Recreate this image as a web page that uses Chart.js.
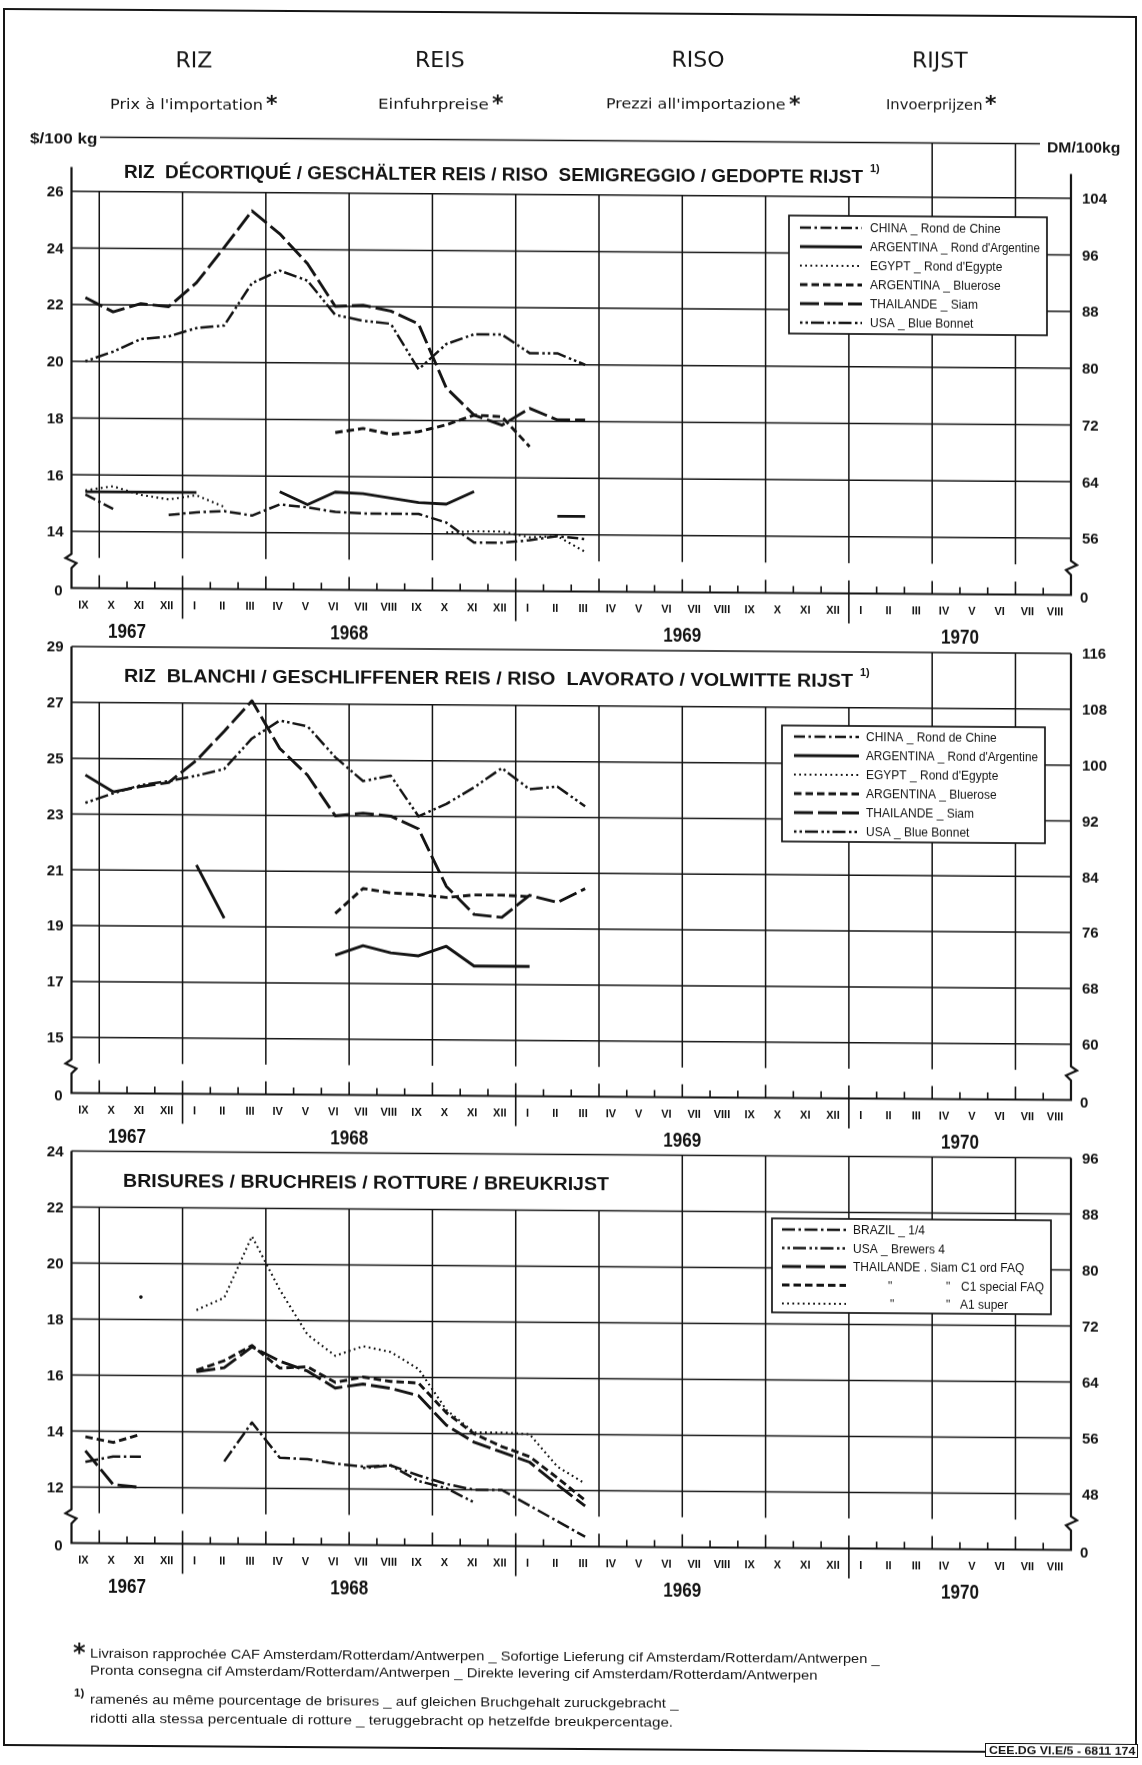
<!DOCTYPE html>
<html>
<head>
<meta charset="utf-8">
<title>Riz - prix à l'importation</title>
<script src="https://cdn.jsdelivr.net/npm/chart.js@4.4.1/dist/chart.umd.min.js"></script>
<style>
  html, body { margin: 0; padding: 0; background: #fff; overflow: hidden; }
  #page { position: relative; width: 1142px; height: 1765px; transform: skewY(0.4deg); transform-origin: 0 0; }
  #page canvas { position: absolute; left: 0; top: 0; }
  .txt { position: absolute; white-space: nowrap; color: #161616; transform-origin: 0 50%; }
  #frame { position: absolute; left: 3px; top: 8px; width: 1134px; height: 1738px; border: 2.5px solid #161616; box-sizing: border-box; }
  #stamp { position: absolute; left: 985px; top: 1736px; width: 153px; height: 14px; border: 1.5px solid #161616; box-sizing: border-box; background: #fff; }
</style>
</head>
<body>
<div id="page">
  <div id="frame"></div>
  <div id="stamp"></div>
</div>
<script>
// months on the time axis, IX 1967 .. VIII 1970
const months = ['IX','X','XI','XII','I','II','III','IV','V','VI','VII','VIII','IX','X','XI','XII',
  'I','II','III','IV','V','VI','VII','VIII','IX','X','XI','XII','I','II','III','IV','V','VI','VII','VIII'];
const years = ['1967', '1968', '1969', '1970'];
const yearStart = [0, 4, 16, 28, 36];
const dmPerDollar = 4;

// $/100 kg, monthly from IX 1967; null = no quotation
// husked rice
const huskChina   = [15.3, 14.8, null, 14.6, 14.7, 14.75, 14.6, 15.0, 14.9, 14.75, 14.7, 14.7, 14.7, 14.4, 13.7, 13.7, 13.8, 13.95, 13.85];
const huskArgRond = [15.4, 15.4, 15.4, 15.4, 15.4, null, null, 15.45, 15.0, 15.45, 15.4, 15.25, 15.1, 15.05, 15.5, null, null, 14.65, 14.65];
const huskEgypt   = [15.45, 15.6, 15.3, 15.15, 15.3, 14.9, null, null, null, null, null, null, null, 14.05, 14.1, 14.1, 13.9, 13.95, 13.4];
const huskBlue    = [null, null, null, null, null, null, null, null, null, 17.55, 17.7, 17.5, 17.6, 17.85, 18.2, 18.15, 17.1, null, null];
const huskSiam    = [22.25, 21.75, 22.05, 21.95, 22.8, 24.05, 25.35, 24.55, 23.5, 22.0, 22.05, 21.85, 21.4, 19.15, 18.2, 17.85, 18.45, 18.05, 18.05];
const huskUsa     = [20.0, 20.35, 20.8, 20.9, 21.2, 21.3, 22.8, 23.25, 22.9, 21.7, 21.5, 21.4, 19.8, 20.7, 21.05, 21.05, 20.4, 20.4, 20.0];

// milled rice
const millArgRond = [24.4, 23.8, null, null, 21.2, 19.3, null, null, null, 18.0, 18.35, 18.1, 18.0, 18.35, 17.65, 17.65, 17.65, null, null];
const millBlue    = [null, null, null, null, null, null, null, null, null, 19.5, 20.4, 20.25, 20.2, 20.1, 20.2, 20.2, 20.15, null, null];
const millSiam    = [null, 23.8, 24.0, 24.15, 24.95, 26.0, 27.1, 25.4, 24.45, 23.0, 23.1, 23.0, 22.55, 20.5, 19.5, 19.4, 20.2, 19.95, 20.45];
const millUsa     = [23.4, 23.75, 24.05, 24.2, 24.4, 24.65, 25.75, 26.4, 26.2, 25.1, 24.25, 24.45, 23.0, 23.45, 24.05, 24.75, 24.0, 24.1, 23.4];

// broken rice
const brokBrazil  = [12.9, 13.1, 13.1, null, null, 12.95, 14.35, 13.1, 13.05, 12.9, 12.8, 12.85, 12.5, 12.2, 12.0, 12.0, 11.45, 10.9, 10.35];
const brokUsa     = [null, null, null, null, null, null, null, null, null, null, 12.75, 12.85, 12.3, 12.05, 11.55, null, null, null, null];
const brokSiamOrd = [13.3, 12.1, 12.0, null, 16.15, 16.3, 17.05, 16.55, 16.2, 15.6, 15.75, 15.6, 15.35, 14.3, 13.7, 13.35, 13.0, 12.2, 11.45];
const brokSpecial = [13.8, 13.6, 13.9, null, 16.2, 16.55, 17.1, 16.3, 16.35, 15.8, 16.0, 15.85, 15.8, 14.75, 14.0, 13.55, 13.2, 12.45, 11.65];
const brokSuper   = [null, null, 18.8, null, 18.35, 18.8, 21.0, 19.1, 17.5, 16.75, 17.1, 16.9, 16.3, 14.85, 14.05, 14.05, 14.0, 12.85, 12.25];

// gridline values ($) of each panel
const ticksHusk   = [14, 16, 18, 20, 22, 24, 26];
const ticksMilled = [15, 17, 19, 21, 23, 25, 27, 29];
const ticksBroken = [12, 14, 16, 18, 20, 22, 24];

const INK = '#141414';
const SANS = '"Liberation Sans", Arial, sans-serif';
const NARROW = '"Liberation Sans Narrow", "Liberation Sans", Arial, sans-serif';
const DEJAVU = '"DejaVu Sans", "Liberation Sans", sans-serif';
const PAGE_W = 1142, PAGE_H = 1765;
const AXIS_L = 71.5, AXIS_R = 1071;

const LINE = {
  china:   { dash: [11, 3.5, 2.5, 3.5], width: 2.5 },
  solid:   { dash: [], width: 2.9 },
  dotted:  { dash: [1.8, 3.4], width: 2.1 },
  short:   { dash: [7.5, 4], width: 2.9 },
  long:    { dash: [19, 5], width: 2.9 },
  dotDash: { dash: [2.5, 3, 2.5, 3, 13, 3.5], width: 2.5 },
  brazil:  { dash: [13, 3.5, 2.5, 3.5], width: 2.5 }
};

const riceKeys = [
  { text: 'CHINA _ Rond de Chine', style: LINE.china },
  { text: "ARGENTINA _ Rond d'Argentine", style: LINE.solid },
  { text: "EGYPT _ Rond d'Egypte", style: LINE.dotted },
  { text: 'ARGENTINA _ Bluerose', style: LINE.short },
  { text: 'THAILANDE _ Siam', style: LINE.long },
  { text: 'USA _ Blue Bonnet', style: LINE.dotDash }
];
const brokenKeys = [
  { text: [['BRAZIL _ 1/4', 0]], style: LINE.brazil },
  { text: [['USA _ Brewers 4', 0]], style: LINE.dotDash },
  { text: [['THAILANDE . Siam', 0], ['C1 ord FAQ', 108]], style: LINE.long },
  { text: [['"', 35], ['"', 93], ['C1 special FAQ', 108]], style: LINE.short },
  { text: [['"', 37], ['"', 93], ['A1 super', 107]], style: LINE.dotted }
];

const panels = [
  {
    key: 'husk', top: 134, bottom: 587.5, yMin: 12, yMax: 28, ticks: ticksHusk,
    axisTop: 26.85, bandFrom: 31, unitLine: [100, 1040],
    title: 'RIZ  DÉCORTIQUÉ / GESCHÄLTER REIS / RISO  SEMIGREGGIO / GEDOPTE RIJST',
    titleX: 124, titleY: 170, titleW: 739,
    legend: { x: 789, y: 210, w: 258, h: 118, s0: 800, s1: 862, tx: 870, row0: 222, rowH: 19 },
    keys: riceKeys,
    series: [
      [huskChina, LINE.china], [huskArgRond, LINE.solid], [huskEgypt, LINE.dotted],
      [huskBlue, LINE.short], [huskSiam, LINE.long], [huskUsa, LINE.dotDash]
    ]
  },
  {
    key: 'milled', top: 646, bottom: 1092.5, yMin: 13, yMax: 29, ticks: ticksMilled,
    axisTop: 29, bandFrom: 31, unitLine: null,
    title: 'RIZ  BLANCHI / GESCHLIFFENER REIS / RISO  LAVORATO / VOLWITTE RIJST',
    titleX: 124, titleY: 674, titleW: 729,
    legend: { x: 782, y: 720, w: 263, h: 116, s0: 794, s1: 859, tx: 866, row0: 731, rowH: 19 },
    keys: riceKeys,
    series: [
      [millArgRond, LINE.solid], [millBlue, LINE.short], [millSiam, LINE.long], [millUsa, LINE.dotDash]
    ]
  },
  {
    key: 'broken', top: 1150.5, bottom: 1542.5, yMin: 10, yMax: 24, ticks: ticksBroken,
    axisTop: 24, bandFrom: 22, unitLine: null,
    title: 'BRISURES / BRUCHREIS / ROTTURE / BREUKRIJST',
    titleX: 123, titleY: 1179.5, titleW: 486, noNote: true,
    legend: { x: 772, y: 1213, w: 279, h: 94, s0: 782, s1: 846, tx: 853, row0: 1224, rowH: 18.5 },
    keys: brokenKeys,
    series: [
      [brokBrazil, LINE.brazil], [brokUsa, LINE.dotDash], [brokSiamOrd, LINE.long],
      [brokSpecial, LINE.short], [brokSuper, LINE.dotted]
    ]
  }
];

function fitText(ctx, str, x, yBase, w) {
  const nat = ctx.measureText(str).width;
  ctx.save();
  ctx.translate(x, yBase);
  ctx.scale(w / nat, 1);
  ctx.textAlign = 'left';
  ctx.fillText(str, 0, 0);
  ctx.restore();
}

const isolated = (vals, i) => vals[i] != null && vals[i - 1] == null && vals[i + 1] == null;

function framePlugin(p) {
  return {
    id: 'frame_' + p.key,
    beforeDatasetsDraw(chart) {
      const ctx = chart.ctx;
      const a = chart.chartArea;
      const xs = chart.scales.x, ys = chart.scales.y;
      const L = a.left, R = a.right;
      const step = (R - L) / months.length;
      const bx = k => L + k * step;
      const py = v => ys.getPixelForValue(v);
      const base = py(p.yMin);
      const low = p.ticks[0];
      const bandTop = p.unitLine ? py(p.yMax) + 2.5 : py(p.yMax);
      const bandBottom = py(p.yMax - 2);

      ctx.save();
      ctx.strokeStyle = INK;
      ctx.fillStyle = INK;
      ctx.lineCap = 'butt';

      // grid: horizontal at each $ value, vertical every quarter
      ctx.lineWidth = 1.5;
      ctx.beginPath();
      p.ticks.forEach(v => { ctx.moveTo(L, py(v)); ctx.lineTo(R, py(v)); });
      if (p.unitLine) { ctx.moveTo(p.unitLine[0], bandTop); ctx.lineTo(p.unitLine[1], bandTop); }
      for (let k = 1; k < months.length; k += 3) {
        ctx.moveTo(bx(k), k >= p.bandFrom ? bandTop : bandBottom);
        ctx.lineTo(bx(k), py(low - 0.93));
      }
      ctx.stroke();

      // axes, broken between the lowest gridline and zero
      const z0 = py(low - 0.8);
      ctx.lineWidth = 2.2;
      ctx.beginPath();
      ctx.moveTo(L, py(p.axisTop)); ctx.lineTo(L, z0);
      ctx.lineTo(L - 6, z0 + 4); ctx.lineTo(L + 5, z0 + 9); ctx.lineTo(L, z0 + 14);
      ctx.lineTo(L, base); ctx.lineTo(R, base);
      ctx.lineTo(R, z0 + 14); ctx.lineTo(R - 5, z0 + 9); ctx.lineTo(R + 6, z0 + 4); ctx.lineTo(R, z0);
      ctx.lineTo(R, py(p.axisTop));
      ctx.stroke();

      // month ticks
      ctx.lineWidth = 1.6;
      ctx.beginPath();
      for (let k = 1; k < months.length; k++) {
        const xx = bx(k);
        if (yearStart.includes(k)) { ctx.moveTo(xx, base - 13); ctx.lineTo(xx, base + 30); }
        else { ctx.moveTo(xx, base - (k % 3 === 1 ? 13 : 7)); ctx.lineTo(xx, base); }
      }
      ctx.stroke();

      // $ labels on the left, DM labels on the right
      ctx.font = 'bold 15px ' + SANS;
      ctx.textBaseline = 'alphabetic';
      const lbl = (s, xx, yy, align) => { ctx.textAlign = align; ctx.fillText(s, xx, yy + 5.4); };
      p.ticks.forEach(v => {
        lbl(String(v), L - 8, py(v), 'right');
        lbl(String(v * dmPerDollar), R + 11, py(v), 'left');
      });
      lbl('0', L - 9, base + 2, 'right');
      lbl('0', R + 9, base + 2, 'left');

      // months and years
      ctx.font = 'bold 11px ' + NARROW;
      ctx.textAlign = 'center';
      months.forEach((m, i) => ctx.fillText(m, xs.getPixelForValue(i) - 2, base + 20));
      ctx.font = 'bold 20px ' + NARROW;
      years.forEach((yr, j) => {
        const c = (bx(yearStart[j]) + bx(yearStart[j + 1])) / 2;
        fitText(ctx, yr, c - 19, base + 49, 38);
      });

      // panel title
      ctx.font = 'bold 18px ' + SANS;
      fitText(ctx, p.title, p.titleX, p.titleY + 6.5, p.titleW);
      if (!p.noNote) {
        ctx.font = 'bold 11px ' + SANS;
        ctx.textAlign = 'left';
        ctx.fillText('1)', p.titleX + p.titleW + 7, p.titleY - 4);
      }

      // key, each label kept inside the box
      const lg = p.legend;
      ctx.fillStyle = '#fff';
      ctx.fillRect(lg.x, lg.y, lg.w, lg.h);
      ctx.fillStyle = INK;
      ctx.lineWidth = 1.7;
      ctx.strokeRect(lg.x, lg.y, lg.w, lg.h);
      ctx.font = '12px ' + SANS;
      ctx.textAlign = 'left';
      p.keys.forEach((key, i) => {
        const yy = lg.row0 + i * lg.rowH;
        ctx.setLineDash(key.style.dash);
        ctx.lineWidth = key.style.width;
        ctx.beginPath(); ctx.moveTo(lg.s0, yy); ctx.lineTo(lg.s1, yy); ctx.stroke();
        ctx.setLineDash([]);
        const parts = typeof key.text === 'string' ? [[key.text, 0]] : key.text;
        parts.forEach(([t, dx]) => {
          const tx = lg.tx + dx;
          const room = lg.x + lg.w - 7 - tx;
          const w = ctx.measureText(t).width;
          fitText(ctx, t, tx, yy + 4.3, Math.min(w, room));
        });
      });
      ctx.restore();
    }
  };
}

const page = document.getElementById('page');

panels.forEach(p => {
  const canvas = document.createElement('canvas');
  canvas.width = PAGE_W; canvas.height = PAGE_H;
  canvas.style.width = PAGE_W + 'px'; canvas.style.height = PAGE_H + 'px';
  page.appendChild(canvas);
  const datasets = p.series.map(([vals, st]) => ({
    data: vals,
    borderColor: INK,
    borderWidth: st.width,
    borderDash: st.dash,
    pointRadius: c => isolated(vals, c.dataIndex) ? 1.8 : 0,
    pointBackgroundColor: INK,
    pointBorderWidth: 0,
    spanGaps: false,
    fill: false,
    tension: 0
  }));
  new Chart(canvas, {
    type: 'line',
    data: { labels: months, datasets },
    options: {
      responsive: false,
      animation: false,
      devicePixelRatio: 1,
      events: [],
      layout: { padding: { left: AXIS_L, right: PAGE_W - AXIS_R, top: p.top, bottom: PAGE_H - p.bottom } },
      scales: {
        x: { type: 'category', offset: true, display: false },
        y: { type: 'linear', min: p.yMin, max: p.yMax, display: false }
      },
      plugins: { legend: { display: false }, tooltip: { enabled: false } },
      elements: {
        line: { tension: 0, borderJoinStyle: 'round', borderCapStyle: 'butt' },
        point: { radius: 0, hoverRadius: 0 }
      }
    },
    plugins: [framePlugin(p)]
  });
});

// page lettering outside the panels
function addText(str, o) {
  const el = document.createElement('div');
  el.className = 'txt';
  el.textContent = str;
  el.style.font = (o.weight || 'normal') + ' ' + o.size + 'px ' + (o.font || SANS);
  el.style.lineHeight = '1';
  page.appendChild(el);
  const nat = el.offsetWidth;
  let w = nat;
  if (o.w) {
    el.style.transform = 'scaleX(' + (o.w / nat) + ')';
    w = o.w;
  }
  el.style.left = (o.align === 'center' ? o.x - w / 2 : o.x) + 'px';
  el.style.top = (o.cy - 0.48 * o.size) + 'px';
  return el;
}

addText('RIZ',   { x: 194, cy: 58.5, size: 22, font: DEJAVU, align: 'center' });
addText('REIS',  { x: 440, cy: 56.8, size: 22, font: DEJAVU, align: 'center' });
addText('RISO',  { x: 698, cy: 55, size: 22, font: DEJAVU, align: 'center' });
addText('RIJST', { x: 940, cy: 53.3, size: 22, font: DEJAVU, align: 'center' });

[
  ["Prix à l'importation", 110, 102.7, 153],
  ['Einfuhrpreise', 378, 101, 111],
  ["Prezzi all'importazione", 606, 99.1, 180],
  ['Invoerprijzen', 886, 97.4, 96]
].forEach(([s, x, cy, w]) => {
  addText(s, { x, cy, size: 14, font: DEJAVU, w });
  addText('*', { x: x + w + 3, cy: cy - 1, size: 22, font: DEJAVU, weight: 'bold' });
});

addText('$/100 kg', { x: 30, cy: 137.5, size: 14, weight: 'bold', w: 67 });
addText('DM/100kg', { x: 1047, cy: 139.4, size: 14, weight: 'bold', w: 73 });

addText('*', { x: 73, cy: 1652, size: 24, font: DEJAVU, weight: 'bold' });
addText('Livraison rapprochée CAF Amsterdam/Rotterdam/Antwerpen _ Sofortige Lieferung cif Amsterdam/Rotterdam/Antwerpen _',
  { x: 90, cy: 1653, size: 12.5, w: 790 });
addText('Pronta consegna cif Amsterdam/Rotterdam/Antwerpen _ Direkte levering cif Amsterdam/Rotterdam/Antwerpen',
  { x: 90, cy: 1670, size: 12.5, w: 728 });
addText('1)', { x: 74, cy: 1693, size: 11.5, weight: 'bold' });
addText('ramenés au même pourcentage de brisures _ auf gleichen Bruchgehalt zuruckgebracht _',
  { x: 90, cy: 1699, size: 12.5, w: 588 });
addText('ridotti alla stessa percentuale di rotture _ teruggebracht op hetzelfde breukpercentage.',
  { x: 90, cy: 1718, size: 12.5, w: 583 });

addText('CEE.DG VI.E/5 - 6811 174', { x: 989, cy: 1743, size: 11, weight: 'bold', w: 146 });
</script>
</body>
</html>
